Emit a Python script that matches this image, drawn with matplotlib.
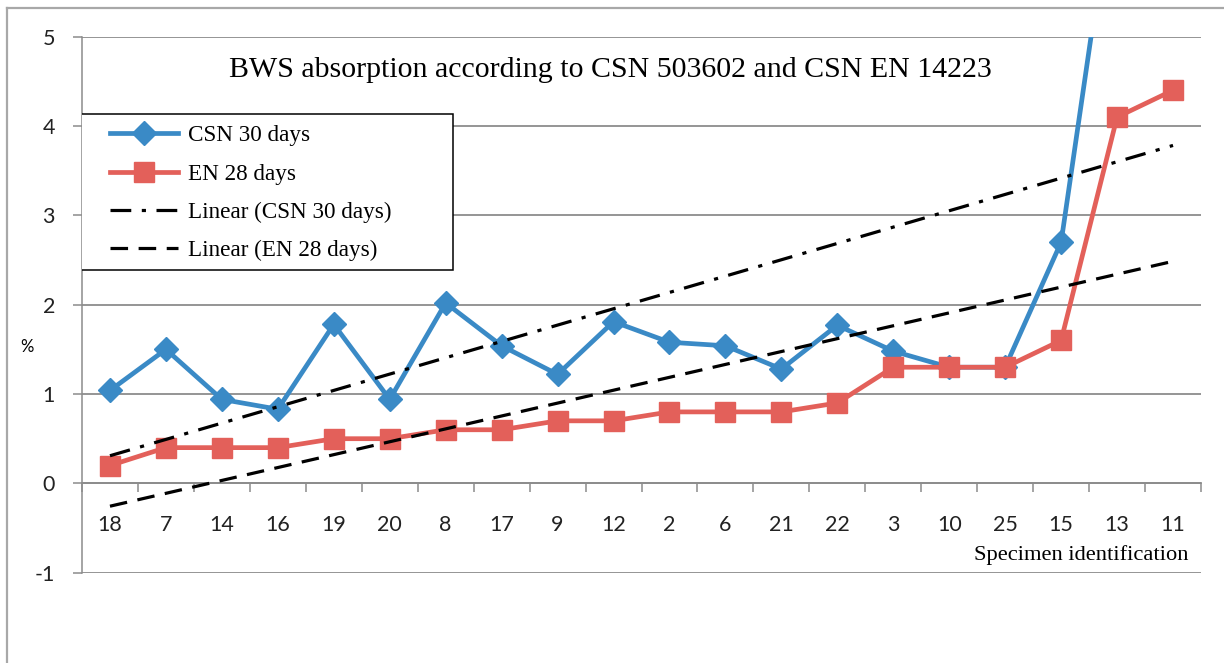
import numpy as np
import matplotlib
matplotlib.use("Agg")
import matplotlib.pyplot as plt
from matplotlib.lines import Line2D
from matplotlib.patches import Rectangle

categories = ["18", "7", "14", "16", "19", "20", "8", "17", "9", "12",
              "2", "6", "21", "22", "3", "10", "25", "15", "13", "11"]
csn_30 = [1.04, 1.50, 0.94, 0.83, 1.78, 0.94, 2.02, 1.54, 1.22, 1.81,
          1.58, 1.54, 1.28, 1.77, 1.48, 1.30, 1.30, 2.70, 7.00, 7.35]
en_28 = [0.2, 0.4, 0.4, 0.4, 0.5, 0.5, 0.6, 0.6, 0.7, 0.7,
         0.8, 0.8, 0.8, 0.9, 1.3, 1.3, 1.3, 1.6, 4.1, 4.4]
yticks = [-1, 0, 1, 2, 3, 4, 5]

W, H = 1224, 663
fig = plt.figure(figsize=(W / 100, H / 100), dpi=100)
ax = fig.add_axes([82 / W, 1 - 572.7 / H, (1201 - 82) / W, (572.7 - 36.7) / H])

serif = "Liberation Serif"
sans = "Lato"
blue = "#3a8ac6"
red = "#e3605a"
gray = "#8c8c8c"

x = np.arange(len(categories))
ax.plot(x, csn_30, color=blue, lw=3.4, marker="D", ms=12, zorder=3,
        label="CSN 30 days")
ax.plot(x, en_28, color=red, lw=3.4, marker="s", ms=14, zorder=4,
        label="EN 28 days")

p1 = np.polyfit(x, csn_30, 1)
p2 = np.polyfit(x, en_28, 1)
ax.plot(x, np.polyval(p1, x), color="black", lw=2.3, zorder=5,
        dashes=(6.5, 3.3, 1.3, 3.3), dash_capstyle="butt",
        label="Linear (CSN 30 days)")
ax.plot(x, np.polyval(p2, x), color="black", lw=2.3, zorder=5,
        dashes=(5.5, 3.3), dash_capstyle="butt",
        label="Linear (EN 28 days)")

ax.set_xlim(-0.5, len(categories) - 0.5)
ax.set_ylim(-1, 5)
ax.set_yticks(yticks)
ax.set_yticklabels([str(v) for v in yticks])
ax.yaxis.grid(True, color=gray, lw=1.3)
ax.set_axisbelow(True)
ax.tick_params(axis="y", length=6.5, width=1.1, color=gray, pad=13,
               labelsize=15.5, labelcolor="#222222", labelfontfamily=sans)

ax.set_xticks(x)
ax.set_xticklabels(categories)
ax.set_xticks(np.arange(-0.5, len(categories)), minor=True)
ax.tick_params(axis="x", which="major", length=0, pad=23, labelsize=15.5,
               labelcolor="#222222", labelfontfamily=sans)
ax.tick_params(axis="x", which="minor", length=6.5, width=1.1, color=gray)

for s in ["top", "right"]:
    ax.spines[s].set_visible(False)
ax.spines["left"].set_color(gray)
ax.spines["left"].set_linewidth(1.1)
ax.spines["bottom"].set_position(("data", 0))
ax.spines["bottom"].set_color(gray)
ax.spines["bottom"].set_linewidth(1.3)

fig.text(610 / W, 1 - 70 / H, "BWS absorption according to CSN 503602 and CSN EN 14223",
         ha="center", va="center", fontfamily=serif, fontsize=21.5)
fig.text(27 / W, 1 - 347 / H, "%", ha="center", va="center",
         fontfamily=sans, fontsize=12)
fig.text(1188 / W, 1 - 555 / H, "Specimen identification", ha="right",
         va="center", fontfamily=serif, fontsize=16.2)

# legend box (frame drawn separately to mimic the wide Excel legend)
box = Rectangle((79 / W, 1 - 270 / H), (453 - 79) / W, (270 - 114) / H,
                transform=fig.transFigure, facecolor="white", edgecolor="black",
                lw=1.1, zorder=9)
ax.add_patch(box)
leg = ax.legend(loc="upper left", bbox_to_anchor=(110 / W, 1 - 125 / H),
                bbox_transform=fig.transFigure, borderaxespad=0, borderpad=0,
                prop={"family": serif, "size": 16.7}, frameon=False,
                handlelength=2.93, handletextpad=0.43, labelspacing=0.74)
leg.set_zorder(10)

fig.add_artist(Line2D([7 / W, 7 / W], [0, 1 - 8 / H], color="#a8a8a8", lw=1.6,
                      transform=fig.transFigure))
fig.add_artist(Line2D([7 / W, 1], [1 - 8 / H, 1 - 8 / H], color="#a8a8a8", lw=1.6,
                      transform=fig.transFigure))

fig.savefig("out.png", dpi=100)
